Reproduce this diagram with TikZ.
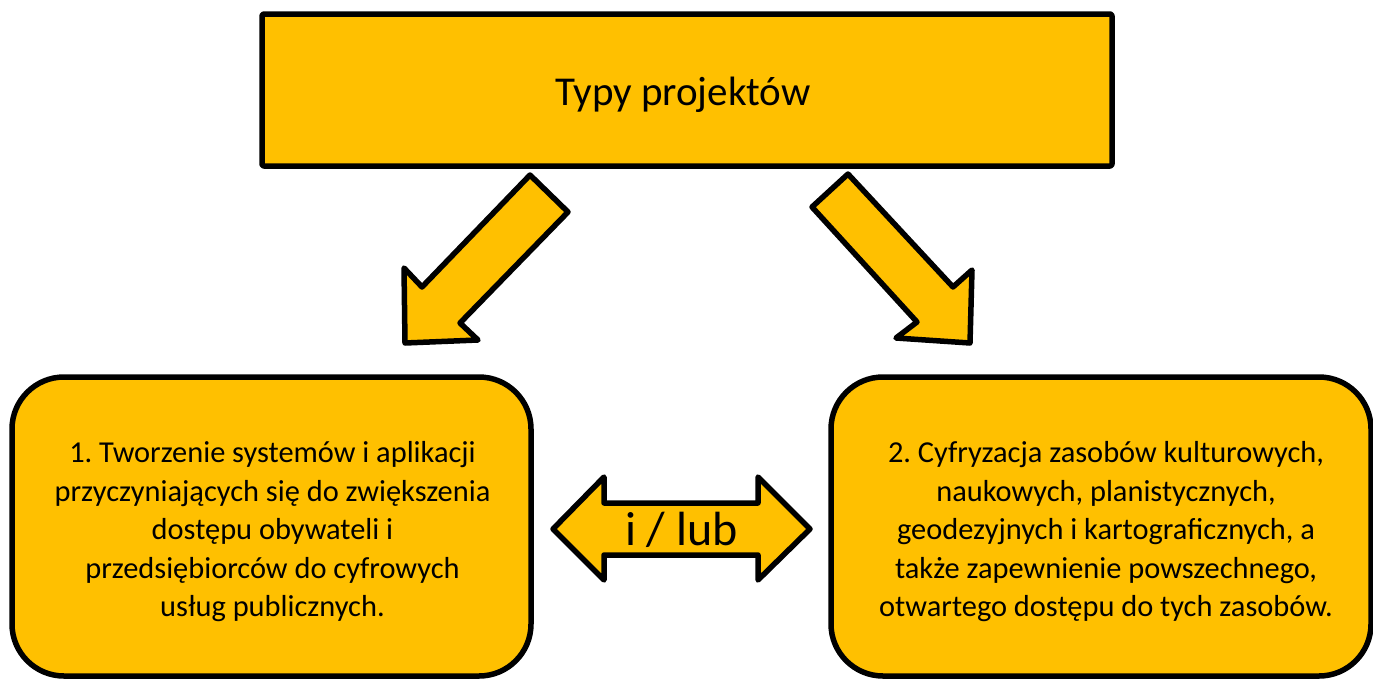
\documentclass[tikz,border=0pt]{standalone}
\usepackage{fontspec}
\setmainfont{Carlito}
\frenchspacing
\definecolor{gold}{HTML}{FFC000}
\tikzset{
  shapebox/.style={draw=black, fill=gold, line width=5.5pt, line join=round},
  bodytext/.style={inner sep=0pt, align=center, font=\fontsize{30.4}{38.5}\selectfont},
  bigtext/.style={inner sep=0pt, font=\fontsize{41}{48}\selectfont},
  ortext/.style={inner sep=0pt, font=\fontsize{48}{56}\selectfont}
}
\begin{document}
\begin{tikzpicture}[x=1pt,y=-1pt]
\useasboundingbox (0,0) rectangle (1373,678);
% top box
\draw[shapebox, rounded corners=2pt] (262,14) rectangle (1112,166);
\node[bigtext, anchor=base] (title) at (683,105) {Typy projektów};
% left / right boxes
\draw[shapebox, rounded corners=52pt] (12,377) rectangle (531,676);
\draw[shapebox, rounded corners=52pt] (831,377) rectangle (1371,676);
\node[bodytext] (left) at (272.5,532) {1. Tworzenie systemów i aplikacji\\przyczyniających się do zwiększenia\\dostępu obywateli i\\przedsiębiorców do cyfrowych\\usług publicznych.};
\node[bodytext] (right) at (1106,532) {2. Cyfryzacja zasobów kulturowych,\\naukowych, planistycznych,\\geodezyjnych i kartograficznych, a\\także zapewnienie powszechnego,\\otwartego dostępu do tych zasobów.};
% down arrows
\draw[shapebox] (530,175) -- (568,212) -- (460,323) -- (478,340) -- (405,343) -- (404,268) -- (422,287) -- cycle;
\draw[shapebox] (848,174) -- (812,207) -- (917,322) -- (896,338) -- (970,343) -- (972,270) -- (953,287) -- cycle;
% double arrow
\draw[shapebox] (553,529) -- (604,477) -- (604,503) -- (758,503) -- (758,477) -- (810,529) -- (758,580) -- (758,555) -- (604,555) -- (604,580) -- cycle;
\node[ortext, anchor=base] (orlub) at (681.5,545) {i / lub};
\end{tikzpicture}
\end{document}
